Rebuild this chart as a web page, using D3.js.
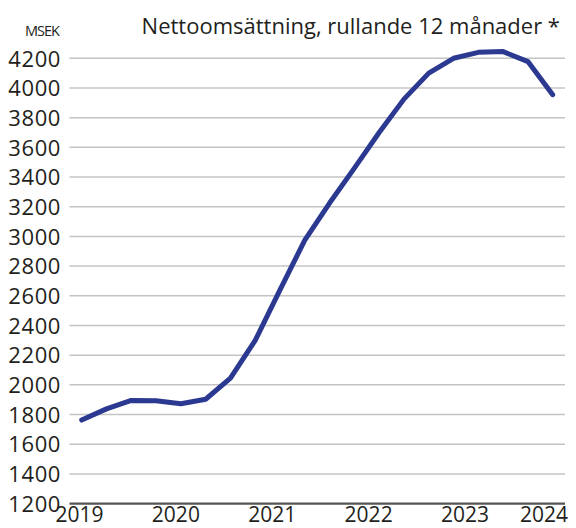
<!DOCTYPE html>
<html><head><meta charset="utf-8">
<script src="https://cdn.jsdelivr.net/npm/d3@7"></script>
<style>body{margin:0;background:#fff}svg{display:block}</style>
</head><body>
<svg id="c" width="576" height="528"></svg>
<script>
const quarters = ["2019Q1","2019Q2","2019Q3","2019Q4","2020Q1","2020Q2","2020Q3","2020Q4","2021Q1","2021Q2","2021Q3","2021Q4","2022Q1","2022Q2","2022Q3","2022Q4","2023Q1","2023Q2","2023Q3","2023Q4"];
const values = [1763,1838,1895,1893,1873,1903,2045,2300,2640,2975,3225,3460,3700,3925,4100,4200,4240,4245,4178,3955];
const yTicks = [1200,1400,1600,1800,2000,2200,2400,2600,2800,3000,3200,3400,3600,3800,4000,4200];
const yearLabels = [2019,2020,2021,2022,2023,2024];
const title = "Nettoomsättning, rullande 12 månader *";
const unit = "MSEK";

const svg = d3.select("#c");
const font = "'Open Sans', sans-serif";
const x = d3.scaleLinear().domain([0, quarters.length-1]).range([81.7, 552.7]);
const y = d3.scaleLinear().domain([1200, 4200]).range([503.6, 58.3]);
const gridX0 = 69.5, gridX1 = 565;

// gridlines
svg.append("g").selectAll("line").data(yTicks.filter(d=>d>1200)).join("line")
  .attr("x1", gridX0).attr("x2", gridX1)
  .attr("y1", d=>y(d)).attr("y2", d=>y(d))
  .attr("stroke", "#c4c4c4").attr("stroke-width", 1.5);

// baseline
svg.append("line").attr("x1", gridX0).attr("x2", gridX1)
  .attr("y1", y(1200)).attr("y2", y(1200))
  .attr("stroke", "#555").attr("stroke-width", 2.4);

// y axis labels
const yAxis = d3.axisLeft(y).tickValues(yTicks).tickSize(0).tickPadding(0).tickFormat(d3.format("d"));
const gy = svg.append("g").attr("transform", "translate(61,0)").call(yAxis);
gy.select(".domain").remove();
gy.selectAll("text").attr("font-family", font).attr("font-size", 22).attr("letter-spacing", 0.6).attr("fill", "#231f20")
  .attr("dy", "0.35em");

// x axis (year labels)
const xYear = d3.scaleLinear().domain([2019, 2023]).range([79, 464.5]);
const xAxis = d3.axisBottom(xYear).tickValues(yearLabels).tickSize(0).tickPadding(0).tickFormat(d3.format("d"));
const gx = svg.append("g").attr("transform", "translate(0,506)").call(xAxis);
gx.select(".domain").remove();
gx.selectAll("text").attr("font-family", font).attr("font-size", 21).attr("fill", "#231f20")
  .attr("dy", "0.78em");
// last label sits flush with the right edge of the plot
gx.selectAll(".tick").filter(d => d === 2024)
  .attr("transform", `translate(${gridX1 + 3},0)`)
  .select("text").attr("text-anchor", "end");

// line
const line = d3.line().x((d,i)=>x(i)).y(d=>y(d));
svg.append("path").datum(values).attr("d", line)
  .attr("fill", "none").attr("stroke", "#2b3990").attr("stroke-width", 5)
  .attr("stroke-linejoin", "round").attr("stroke-linecap", "round");

// title
svg.append("text").attr("x", 560).attr("y", 33.5).attr("text-anchor", "end")
  .attr("font-family", font).attr("font-size", 22).attr("fill", "#231f20").text(title);
svg.append("text").attr("x", 59).attr("y", 36).attr("text-anchor", "end")
  .attr("font-family", font).attr("font-size", 14.5).attr("letter-spacing", -1).attr("fill", "#231f20").text(unit);
</script>
</body></html>
